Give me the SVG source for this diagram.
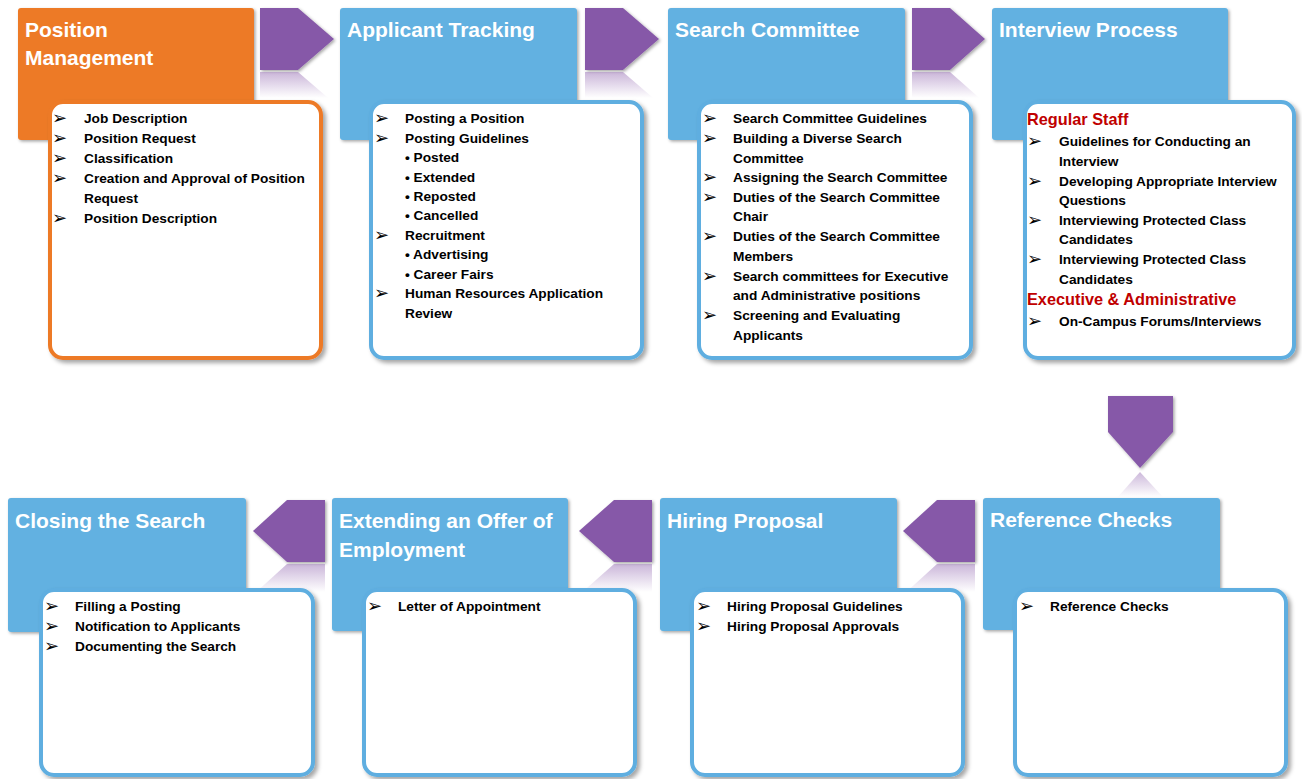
<svg xmlns="http://www.w3.org/2000/svg" width="1302" height="779" viewBox="0 0 1302 779">
  <defs>
    <filter id="shadow" x="-10%" y="-10%" width="120%" height="120%">
      <feDropShadow dx="1.5" dy="1.5" stdDeviation="1.5" flood-color="#000" flood-opacity="0.35"/>
    </filter>
    <filter id="cardShadow" x="-10%" y="-10%" width="120%" height="120%">
      <feDropShadow dx="3" dy="3" stdDeviation="2" flood-color="#000" flood-opacity="0.35"/>
    </filter>
    <linearGradient id="reflectTop" gradientUnits="userSpaceOnUse" x1="0" y1="72" x2="0" y2="98">
      <stop offset="0" stop-color="#8a5cab" stop-opacity="0.45"/>
      <stop offset="1" stop-color="#8a5cab" stop-opacity="0"/>
    </linearGradient>
    <linearGradient id="reflectBottom" gradientUnits="userSpaceOnUse" x1="0" y1="564" x2="0" y2="592">
      <stop offset="0" stop-color="#8a5cab" stop-opacity="0.45"/>
      <stop offset="1" stop-color="#8a5cab" stop-opacity="0"/>
    </linearGradient>
    <linearGradient id="reflectDown" gradientUnits="userSpaceOnUse" x1="0" y1="471" x2="0" y2="497">
      <stop offset="0" stop-color="#8a5cab" stop-opacity="0.45"/>
      <stop offset="1" stop-color="#8a5cab" stop-opacity="0"/>
    </linearGradient>
  </defs>
  <style>
    .head { fill: #62b1e1; filter: url(#shadow); }
    .head.orange { fill: #ed7a27; }
    .card { fill: #ffffff; stroke: #5eaee0; stroke-width: 4; filter: url(#cardShadow); }
    .card.orange { stroke: #ed7a27; }
    .title { font-family: "Liberation Sans", Arial, sans-serif; font-weight: bold; font-size: 21px; fill: #ffffff; }
    .item { font-family: "Liberation Sans", Arial, sans-serif; font-weight: bold; font-size: 13.7px; fill: #000000; }
    .mark { font-family: "DejaVu Sans", sans-serif; font-size: 18px; fill: #000000; }
    .group { font-family: "Liberation Sans", Arial, sans-serif; font-weight: bold; font-size: 16.3px; fill: #c00000; }
    .step { fill: #8659a8; filter: url(#shadow); }
  </style>

  <!-- flow arrows between stages -->
  <g id="connectors">
    <polygon class="step" points="260,8 298,8 334,39 298,70 260,70"/>
    <polygon points="260,72 298,72 334,103 298,134 260,134" fill="url(#reflectTop)"/>
    <polygon class="step" points="585,8 623,8 659,39 623,70 585,70"/>
    <polygon points="585,72 623,72 659,103 623,134 585,134" fill="url(#reflectTop)"/>
    <polygon class="step" points="912,8 950,8 985,39 950,70 912,70"/>
    <polygon points="912,72 950,72 985,103 950,134 912,134" fill="url(#reflectTop)"/>

    <polygon class="step" points="1108,396 1173,396 1173,432 1140,468 1108,432"/>
    <polygon points="1140,472 1173,508 1108,508" fill="url(#reflectDown)"/>

    <polygon class="step" points="975,500 937,500 903,531 937,562 975,562"/>
    <polygon points="975,564 937,564 903,595 937,626 975,626" fill="url(#reflectBottom)"/>
    <polygon class="step" points="652,500 614,500 579,531 614,562 652,562"/>
    <polygon points="652,564 614,564 579,595 614,626 652,626" fill="url(#reflectBottom)"/>
    <polygon class="step" points="325,500 287,500 253,531 287,562 325,562"/>
    <polygon points="325,564 287,564 253,595 287,626 325,626" fill="url(#reflectBottom)"/>
  </g>

  <!-- stage 1 -->
  <g id="position-management">
    <rect class="head orange" x="18" y="8" width="236" height="132" rx="3"/>
    <text class="title" x="25" y="37">Position</text>
    <text class="title" x="25" y="65">Management</text>
    <rect class="card orange" x="50" y="102" width="271" height="256" rx="13"/>
    <text class="mark" x="52" y="124">➢</text><text class="item" x="84" y="123">Job Description</text>
    <text class="mark" x="52" y="144">➢</text><text class="item" x="84" y="143">Position Request</text>
    <text class="mark" x="52" y="164">➢</text><text class="item" x="84" y="163">Classification</text>
    <text class="mark" x="52" y="184">➢</text><text class="item" x="84" y="183">Creation and Approval of Position</text>
    <text class="item" x="84" y="203">Request</text>
    <text class="mark" x="52" y="224">➢</text><text class="item" x="84" y="223">Position Description</text>
  </g>

  <!-- stage 2 -->
  <g id="applicant-tracking">
    <rect class="head" x="340" y="8" width="237" height="132" rx="3"/>
    <text class="title" x="347" y="37">Applicant Tracking</text>
    <rect class="card" x="371" y="102" width="271" height="256" rx="13"/>
    <text class="mark" x="374" y="124">➢</text><text class="item" x="405" y="123">Posting a Position</text>
    <text class="mark" x="374" y="144">➢</text><text class="item" x="405" y="143">Posting Guidelines</text>
    <text class="item" x="405" y="162">• Posted</text>
    <text class="item" x="405" y="182">• Extended</text>
    <text class="item" x="405" y="201">• Reposted</text>
    <text class="item" x="405" y="220">• Cancelled</text>
    <text class="mark" x="374" y="241">➢</text><text class="item" x="405" y="240">Recruitment</text>
    <text class="item" x="405" y="259">• Advertising</text>
    <text class="item" x="405" y="279">• Career Fairs</text>
    <text class="mark" x="374" y="299">➢</text><text class="item" x="405" y="298">Human Resources Application</text>
    <text class="item" x="405" y="318">Review</text>
  </g>

  <!-- stage 3 -->
  <g id="search-committee">
    <rect class="head" x="668" y="8" width="237" height="132" rx="3"/>
    <text class="title" x="675" y="37">Search Committee</text>
    <rect class="card" x="699" y="102" width="272" height="256" rx="13"/>
    <text class="mark" x="702" y="124">➢</text><text class="item" x="733" y="123">Search Committee Guidelines</text>
    <text class="mark" x="702" y="144">➢</text><text class="item" x="733" y="143">Building a Diverse Search</text>
    <text class="item" x="733" y="163">Committee</text>
    <text class="mark" x="702" y="183">➢</text><text class="item" x="733" y="182">Assigning the Search Committee</text>
    <text class="mark" x="702" y="203">➢</text><text class="item" x="733" y="202">Duties of the Search Committee</text>
    <text class="item" x="733" y="221">Chair</text>
    <text class="mark" x="702" y="242">➢</text><text class="item" x="733" y="241">Duties of the Search Committee</text>
    <text class="item" x="733" y="261">Members</text>
    <text class="mark" x="702" y="282">➢</text><text class="item" x="733" y="281">Search committees for Executive</text>
    <text class="item" x="733" y="300">and Administrative positions</text>
    <text class="mark" x="702" y="321">➢</text><text class="item" x="733" y="320">Screening and Evaluating</text>
    <text class="item" x="733" y="340">Applicants</text>
  </g>

  <!-- stage 4 -->
  <g id="interview-process">
    <rect class="head" x="992" y="8" width="236" height="132" rx="3"/>
    <text class="title" x="999" y="37">Interview Process</text>
    <rect class="card" x="1025" y="102" width="269" height="256" rx="13"/>
    <text class="group" x="1027" y="125">Regular Staff</text>
    <text class="mark" x="1027" y="147">➢</text><text class="item" x="1059" y="146">Guidelines for Conducting an</text>
    <text class="item" x="1059" y="166">Interview</text>
    <text class="mark" x="1027" y="187">➢</text><text class="item" x="1059" y="186">Developing Appropriate Interview</text>
    <text class="item" x="1059" y="205">Questions</text>
    <text class="mark" x="1027" y="226">➢</text><text class="item" x="1059" y="225">Interviewing Protected Class</text>
    <text class="item" x="1059" y="244">Candidates</text>
    <text class="mark" x="1027" y="265">➢</text><text class="item" x="1059" y="264">Interviewing Protected Class</text>
    <text class="item" x="1059" y="284">Candidates</text>
    <text class="group" x="1027" y="305">Executive &amp; Administrative</text>
    <text class="mark" x="1027" y="327">➢</text><text class="item" x="1059" y="326">On-Campus Forums/Interviews</text>
  </g>

  <!-- stage 5 -->
  <g id="reference-checks">
    <rect class="head" x="983" y="498" width="237" height="132" rx="3"/>
    <text class="title" x="990" y="527">Reference Checks</text>
    <rect class="card" x="1015" y="590" width="271" height="185" rx="13"/>
    <text class="mark" x="1019" y="612">➢</text><text class="item" x="1050" y="611">Reference Checks</text>
  </g>

  <!-- stage 6 -->
  <g id="hiring-proposal">
    <rect class="head" x="660" y="498" width="237" height="133" rx="3"/>
    <text class="title" x="667" y="528">Hiring Proposal</text>
    <rect class="card" x="692" y="590" width="271" height="185" rx="13"/>
    <text class="mark" x="696" y="612">➢</text><text class="item" x="727" y="611">Hiring Proposal Guidelines</text>
    <text class="mark" x="696" y="632">➢</text><text class="item" x="727" y="631">Hiring Proposal Approvals</text>
  </g>

  <!-- stage 7 -->
  <g id="extending-offer">
    <rect class="head" x="332" y="498" width="236" height="133" rx="3"/>
    <text class="title" x="339" y="528">Extending an Offer of</text>
    <text class="title" x="339" y="557">Employment</text>
    <rect class="card" x="364" y="590" width="271" height="185" rx="13"/>
    <text class="mark" x="367" y="612">➢</text><text class="item" x="398" y="611">Letter of Appointment</text>
  </g>

  <!-- stage 8 -->
  <g id="closing-search">
    <rect class="head" x="8" y="498" width="238" height="134" rx="3"/>
    <text class="title" x="15" y="528">Closing the Search</text>
    <rect class="card" x="41" y="590" width="272" height="185" rx="13"/>
    <text class="mark" x="44" y="612">➢</text><text class="item" x="75" y="611">Filling a Posting</text>
    <text class="mark" x="44" y="632">➢</text><text class="item" x="75" y="631">Notification to Applicants</text>
    <text class="mark" x="44" y="652">➢</text><text class="item" x="75" y="651">Documenting the Search</text>
  </g>
</svg>
